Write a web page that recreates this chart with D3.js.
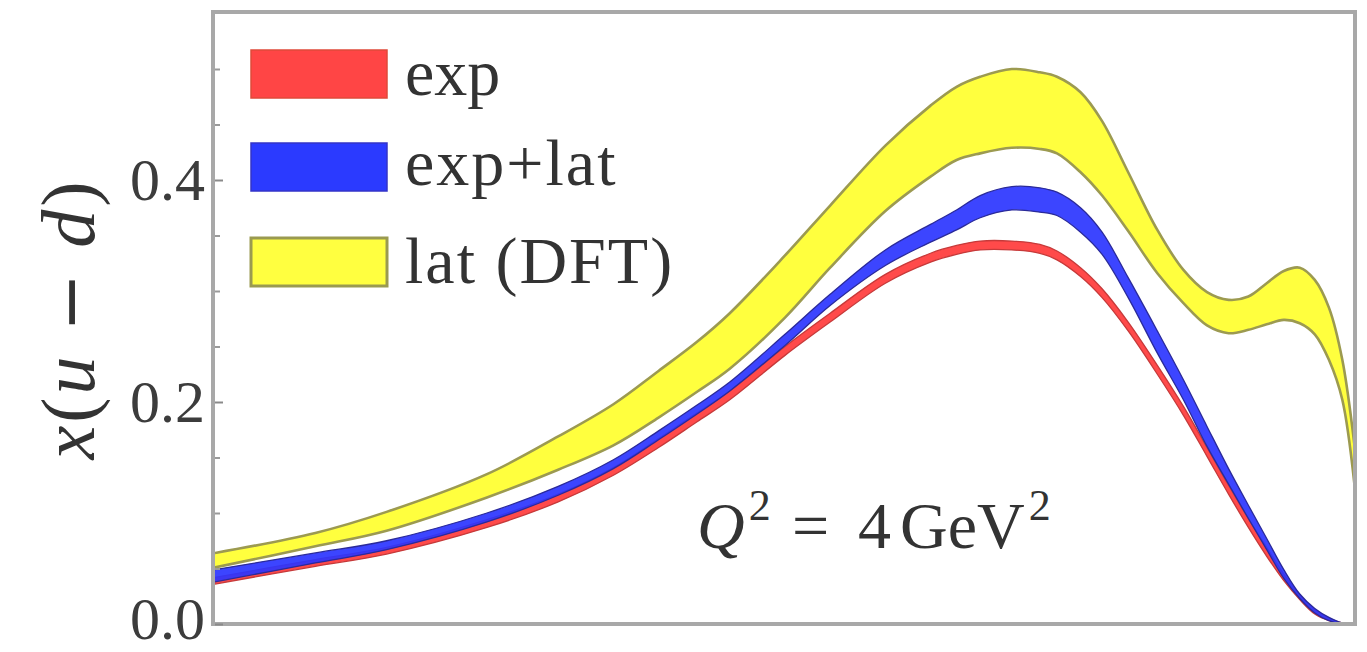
<!DOCTYPE html>
<html>
<head>
<meta charset="utf-8">
<script src="https://cdn.jsdelivr.net/npm/d3@7"></script>
<style>
  html, body { margin: 0; padding: 0; background: #fff; }
  svg { display: block; }
</style>
</head>
<body>
<svg id="chart" width="1367" height="652"></svg>
<script>
// Momentum fraction grid (log-spaced)
const xGrid = [0.01, 0.015, 0.02, 0.03, 0.04, 0.05, 0.06, 0.07, 0.08, 0.1, 0.12, 0.15, 0.18, 0.2, 0.22,
  0.25, 0.28, 0.3, 0.33, 0.36, 0.4, 0.45, 0.5, 0.55, 0.6, 0.65, 0.7, 0.75, 0.8, 0.85, 0.9, 0.95, 1.0];

// exp band
const expLo = [0.036, 0.052, 0.063, 0.087, 0.110, 0.134, 0.159, 0.182, 0.202, 0.242, 0.272, 0.307, 0.326, 0.333, 0.337,
  0.337, 0.334, 0.328, 0.313, 0.294, 0.264, 0.225, 0.188, 0.151, 0.117, 0.087, 0.061, 0.039, 0.022, 0.009, 0.003, 0.000, 0.000];
const expHi = [0.042, 0.058, 0.069, 0.094, 0.117, 0.141, 0.167, 0.190, 0.210, 0.250, 0.280, 0.315, 0.334, 0.341, 0.345,
  0.345, 0.342, 0.336, 0.321, 0.302, 0.272, 0.233, 0.196, 0.159, 0.125, 0.095, 0.069, 0.045, 0.026, 0.013, 0.005, 0.001, 0.000];

// exp+lat band
const expLatLo = [0.038, 0.055, 0.067, 0.092, 0.116, 0.140, 0.166, 0.189, 0.210, 0.251, 0.287, 0.323, 0.344, 0.355, 0.366,
  0.373, 0.371, 0.368, 0.353, 0.333, 0.294, 0.244, 0.202, 0.160, 0.126, 0.095, 0.067, 0.041, 0.023, 0.010, 0.003, 0.000, 0.000];
const expLatHi = [0.049, 0.064, 0.075, 0.100, 0.124, 0.148, 0.174, 0.197, 0.218, 0.261, 0.297, 0.337, 0.360, 0.373, 0.386,
  0.394, 0.393, 0.389, 0.375, 0.353, 0.312, 0.264, 0.220, 0.178, 0.140, 0.107, 0.077, 0.049, 0.027, 0.014, 0.006, 0.001, 0.000];

// lat (DFT) band
const latLo = [0.051, 0.070, 0.084, 0.114, 0.139, 0.161, 0.186, 0.209, 0.230, 0.276, 0.321, 0.372, 0.403, 0.418, 0.424,
  0.429, 0.428, 0.424, 0.407, 0.386, 0.354, 0.316, 0.289, 0.269, 0.262, 0.265, 0.270, 0.274, 0.271, 0.261, 0.238, 0.202, 0.121];
const latHi = [0.064, 0.082, 0.101, 0.135, 0.169, 0.198, 0.228, 0.254, 0.280, 0.332, 0.377, 0.431, 0.467, 0.484, 0.493,
  0.500, 0.497, 0.493, 0.479, 0.453, 0.407, 0.355, 0.319, 0.299, 0.292, 0.295, 0.307, 0.318, 0.321, 0.310, 0.285, 0.238, 0.157];

const yTickValues = [0.0, 0.2, 0.4];
const yMinorTicks = [0.05, 0.1, 0.15, 0.25, 0.3, 0.35, 0.45, 0.5];
const legendLabels = ["exp", "exp+lat", "lat (DFT)"];

const svg = d3.select("#chart");
const plot = { left: 215, right: 1355, top: 14, bottom: 624 };

const x = d3.scaleLog().domain([0.01, 1]).range([plot.left, plot.right]);
const y = d3.scaleLinear().domain([0, 0.55]).range([plot.bottom, plot.bottom - 0.55 * 1110]);

svg.append("defs").append("clipPath").attr("id", "plotClip")
  .append("rect")
  .attr("x", plot.left).attr("y", plot.top)
  .attr("width", plot.right - plot.left - 2).attr("height", plot.bottom - plot.top - 2);

const g = svg.append("g").attr("clip-path", "url(#plotClip)");
const smooth = d3.curveCatmullRom.alpha(0.5);

function drawBand(lo, hi, fill, stroke, strokeWidth, opacity) {
  const area = d3.area()
    .x((d, i) => x(xGrid[i]))
    .y0((d, i) => y(lo[i]))
    .y1((d, i) => y(hi[i]))
    .curve(smooth);
  const line = d3.line()
    .x((d, i) => x(xGrid[i]))
    .y(d => y(d))
    .curve(smooth);
  g.append("path").datum(xGrid).attr("d", area)
    .attr("fill", fill).attr("fill-opacity", opacity);
  [lo, hi].forEach(edge => {
    g.append("path").datum(edge).attr("d", line)
      .attr("fill", "none").attr("stroke", stroke).attr("stroke-width", strokeWidth);
  });
}

drawBand(expLo, expHi, "#ff4a4a", "#c63a3a", 1.3, 1);
drawBand(expLatLo, expLatHi, "#2b35ff", "#2a2a9a", 1.3, 0.92);
drawBand(latLo, latHi, "#ffff3e", "#9c9a50", 2.6, 1);

// Frame
svg.append("rect")
  .attr("x", 213).attr("y", 12)
  .attr("width", 1142).attr("height", 612)
  .attr("fill", "none").attr("stroke", "#a8a8a8").attr("stroke-width", 4);

// Y axis: ticks point inward
const yAxis = d3.axisLeft(y)
  .tickValues(yTickValues)
  .tickFormat(d3.format(".1f"))
  .tickSize(-8)
  .tickPadding(10);
const ya = svg.append("g").attr("transform", `translate(${plot.left},0)`).call(yAxis);
ya.select(".domain").remove();
ya.selectAll(".tick line").attr("stroke", "#8a8a8a").attr("stroke-width", 2);
ya.selectAll(".tick text")
  .attr("font-family", "'Liberation Serif', 'DejaVu Serif', serif")
  .attr("font-size", 60)
  .attr("fill", "#3c3c3c")
  .attr("dy", d => d === 0 ? "0.24em" : "0.32em");

const yMinor = d3.axisLeft(y).tickValues(yMinorTicks).tickFormat("").tickSize(-5);
const ym = svg.append("g").attr("transform", `translate(${plot.left},0)`).call(yMinor);
ym.select(".domain").remove();
ym.selectAll(".tick line").attr("stroke", "#9a9a9a").attr("stroke-width", 2);

// Y axis title
const yTitle = svg.append("text")
  .attr("transform", "translate(94,319) rotate(-90)")
  .attr("text-anchor", "middle")
  .attr("font-family", "'Liberation Serif', 'DejaVu Serif', serif")
  .attr("font-size", 76)
  .attr("fill", "#333")
  .attr("letter-spacing", 3);
yTitle.append("tspan").attr("font-style", "italic").text("x");
yTitle.append("tspan").text("(");
yTitle.append("tspan").attr("font-style", "italic").text("u");
yTitle.append("tspan").text(" ");
yTitle.append("tspan").attr("font-family", "'DejaVu Sans', sans-serif").attr("font-size", 70).text("\u2212");
yTitle.append("tspan").text(" ");
yTitle.append("tspan").attr("font-style", "italic").text("d");
yTitle.append("tspan").text(")");

// Legend
const legendColors = [
  { fill: "#ff4545", stroke: "#e04a3a", sw: 1.5 },
  { fill: "#2b3aff", stroke: "#3434c8", sw: 1.5 },
  { fill: "#ffff40", stroke: "#9a9a50", sw: 3 }
];
const legendTop = [50, 143, 238];
const legendBase = [95, 185, 283];
legendLabels.forEach((lab, i) => {
  svg.append("rect")
    .attr("x", 251).attr("y", legendTop[i])
    .attr("width", 136).attr("height", 48)
    .attr("fill", legendColors[i].fill)
    .attr("stroke", legendColors[i].stroke)
    .attr("stroke-width", legendColors[i].sw);
  svg.append("text")
    .attr("x", 405).attr("y", legendBase[i])
    .attr("font-family", "'Liberation Serif', 'DejaVu Serif', serif")
    .attr("font-size", 66)
    .attr("fill", "#333")
    .attr("letter-spacing", lab === "exp" ? 0 : 2)
    .text(lab);
});

// Scale annotation
const ann = svg.append("text")
  .attr("x", 697).attr("y", 548)
  .attr("font-family", "'Liberation Serif', 'DejaVu Serif', serif")
  .attr("font-size", 66)
  .attr("fill", "#333");
ann.append("tspan").attr("font-style", "italic").text("Q");
ann.append("tspan").attr("font-size", 44).attr("dy", -28).attr("dx", 4).text("2");
ann.append("tspan").attr("dy", 28).attr("x", 792).text("=");
ann.append("tspan").attr("x", 858).text("4");
ann.append("tspan").attr("x", 900).text("GeV");
ann.append("tspan").attr("font-size", 44).attr("dy", -28).attr("dx", 4).text("2");
</script>
</body>
</html>
